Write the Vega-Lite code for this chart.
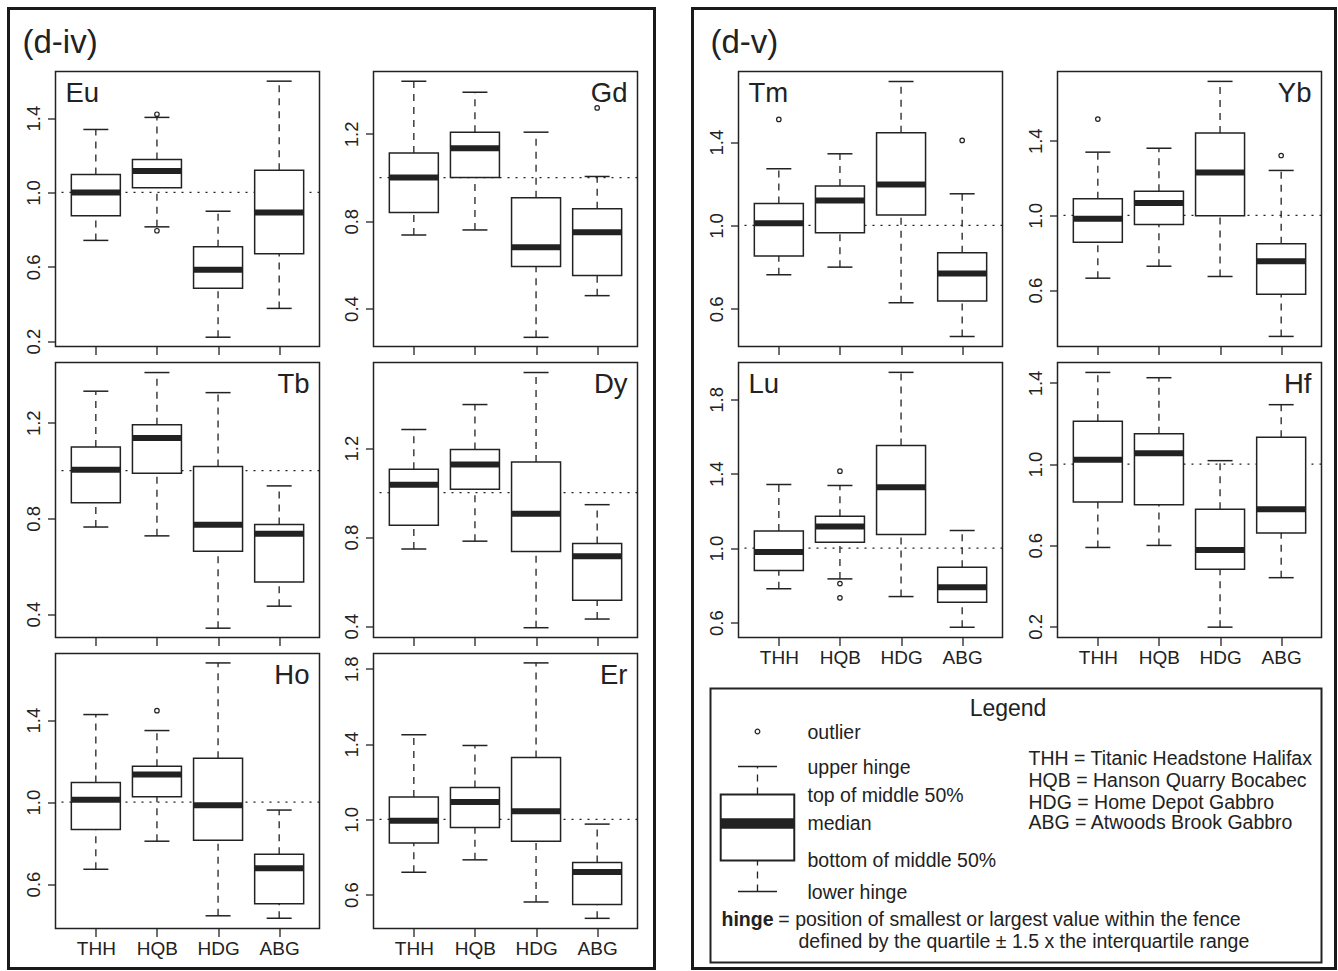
{
"$schema": "https://vega.github.io/schema/vega-lite/v6.json",
"padding": {"left": 6.5, "top": 6.5, "right": 0, "bottom": 0},
"background": "white",
"config": {
  "font": "Liberation Sans",
  "view": {"stroke": "#222", "strokeWidth": 1.5},
  "axis": {"domain": false, "grid": false, "tickColor": "#222", "tickSize": 8, "tickWidth": 1.3, "labelColor": "#222", "labelFont": "Liberation Sans", "labelFontSize": 18.5},
  "axisX": {"labelPadding": 3, "labelFontSize": 19, "labelAngle": 0},
  "axisY": {"labelAngle": -90, "labelAlign": "center", "labelBaseline": "bottom", "labelPadding": 4},
  "title": {"font": "Liberation Sans", "fontWeight": "normal", "color": "#222"}
},
"datasets": {
  "stats": [
    {"el":"Eu","site":"THH","lo":0.742,"q1":0.875,"med":1.0,"q3":1.097,"hi":1.339},
    {"el":"Eu","site":"HQB","lo":0.815,"q1":1.025,"med":1.115,"q3":1.178,"hi":1.404},
    {"el":"Eu","site":"HDG","lo":0.221,"q1":0.485,"med":0.584,"q3":0.708,"hi":0.899},
    {"el":"Eu","site":"ABG","lo":0.376,"q1":0.67,"med":0.892,"q3":1.12,"hi":1.599},
    {"el":"Gd","site":"THH","lo":0.737,"q1":0.84,"med":1.0,"q3":1.113,"hi":1.441},
    {"el":"Gd","site":"HQB","lo":0.76,"q1":1.0,"med":1.134,"q3":1.208,"hi":1.391},
    {"el":"Gd","site":"HDG","lo":0.268,"q1":0.593,"med":0.681,"q3":0.907,"hi":1.208},
    {"el":"Gd","site":"ABG","lo":0.459,"q1":0.551,"med":0.749,"q3":0.857,"hi":1.005},
    {"el":"Tb","site":"THH","lo":0.764,"q1":0.866,"med":1.004,"q3":1.099,"hi":1.332},
    {"el":"Tb","site":"HQB","lo":0.727,"q1":0.989,"med":1.136,"q3":1.192,"hi":1.41},
    {"el":"Tb","site":"HDG","lo":0.341,"q1":0.663,"med":0.773,"q3":1.017,"hi":1.326},
    {"el":"Tb","site":"ABG","lo":0.433,"q1":0.534,"med":0.736,"q3":0.775,"hi":0.936},
    {"el":"Dy","site":"THH","lo":0.747,"q1":0.853,"med":1.036,"q3":1.105,"hi":1.284},
    {"el":"Dy","site":"HQB","lo":0.782,"q1":1.015,"med":1.126,"q3":1.194,"hi":1.396},
    {"el":"Dy","site":"HDG","lo":0.393,"q1":0.736,"med":0.905,"q3":1.138,"hi":1.54},
    {"el":"Dy","site":"ABG","lo":0.432,"q1":0.516,"med":0.714,"q3":0.772,"hi":0.946},
    {"el":"Ho","site":"THH","lo":0.672,"q1":0.866,"med":1.011,"q3":1.096,"hi":1.427},
    {"el":"Ho","site":"HQB","lo":0.809,"q1":1.026,"med":1.134,"q3":1.175,"hi":1.349},
    {"el":"Ho","site":"HDG","lo":0.445,"q1":0.814,"med":0.985,"q3":1.214,"hi":1.679},
    {"el":"Ho","site":"ABG","lo":0.433,"q1":0.504,"med":0.677,"q3":0.745,"hi":0.961},
    {"el":"Er","site":"THH","lo":0.719,"q1":0.874,"med":0.993,"q3":1.119,"hi":1.45},
    {"el":"Er","site":"HQB","lo":0.785,"q1":0.957,"med":1.092,"q3":1.169,"hi":1.393},
    {"el":"Er","site":"HDG","lo":0.561,"q1":0.884,"med":1.043,"q3":1.329,"hi":1.832},
    {"el":"Er","site":"ABG","lo":0.474,"q1":0.547,"med":0.721,"q3":0.771,"hi":0.975},
    {"el":"Tm","site":"THH","lo":0.763,"q1":0.854,"med":1.011,"q3":1.106,"hi":1.272},
    {"el":"Tm","site":"HQB","lo":0.8,"q1":0.965,"med":1.12,"q3":1.189,"hi":1.344},
    {"el":"Tm","site":"HDG","lo":0.629,"q1":1.05,"med":1.197,"q3":1.445,"hi":1.691},
    {"el":"Tm","site":"ABG","lo":0.467,"q1":0.637,"med":0.77,"q3":0.869,"hi":1.152},
    {"el":"Yb","site":"THH","lo":0.664,"q1":0.857,"med":0.982,"q3":1.089,"hi":1.339},
    {"el":"Yb","site":"HQB","lo":0.728,"q1":0.952,"med":1.066,"q3":1.13,"hi":1.36},
    {"el":"Yb","site":"HDG","lo":0.673,"q1":0.998,"med":1.23,"q3":1.441,"hi":1.718},
    {"el":"Yb","site":"ABG","lo":0.352,"q1":0.578,"med":0.754,"q3":0.848,"hi":1.241},
    {"el":"Lu","site":"THH","lo":0.782,"q1":0.88,"med":0.98,"q3":1.093,"hi":1.342},
    {"el":"Lu","site":"HQB","lo":0.835,"q1":1.032,"med":1.117,"q3":1.172,"hi":1.337},
    {"el":"Lu","site":"HDG","lo":0.74,"q1":1.074,"med":1.328,"q3":1.552,"hi":1.945},
    {"el":"Lu","site":"ABG","lo":0.575,"q1":0.71,"med":0.79,"q3":0.898,"hi":1.095},
    {"el":"Hf","site":"THH","lo":0.589,"q1":0.813,"med":1.022,"q3":1.211,"hi":1.452},
    {"el":"Hf","site":"HQB","lo":0.599,"q1":0.8,"med":1.053,"q3":1.15,"hi":1.426},
    {"el":"Hf","site":"HDG","lo":0.196,"q1":0.481,"med":0.576,"q3":0.778,"hi":1.017},
    {"el":"Hf","site":"ABG","lo":0.44,"q1":0.66,"med":0.777,"q3":1.132,"hi":1.293}
  ],
  "out": [
    {"el":"Eu","site":"HQB","v":1.421},{"el":"Eu","site":"HQB","v":0.794},
    {"el":"Gd","site":"ABG","v":1.319},
    {"el":"Ho","site":"HQB","v":1.446},
    {"el":"Tm","site":"THH","v":1.509},{"el":"Tm","site":"ABG","v":1.408},
    {"el":"Yb","site":"THH","v":1.516},{"el":"Yb","site":"ABG","v":1.321},
    {"el":"Lu","site":"HQB","v":1.414},{"el":"Lu","site":"HQB","v":0.81},{"el":"Lu","site":"HQB","v":0.733}
  ],
  "lgbox": [{"lo":2.591,"q1":3.723,"med":5.073,"q3":6.131,"hi":7.153,"out":8.43}],
  "lgitems": [
    {"label":"outlier","v":8.43},
    {"label":"upper hinge","v":7.153},
    {"label":"top of middle 50%","v":6.131},
    {"label":"median","v":5.073},
    {"label":"bottom of middle 50%","v":3.723},
    {"label":"lower hinge","v":2.591}
  ],
  "lgdefs": [
    {"label":"THH = Titanic Headstone Halifax","v":7.445},
    {"label":"HQB = Hanson Quarry Bocabec","v":6.642},
    {"label":"HDG = Home Depot Gabbro","v":5.839},
    {"label":"ABG = Atwoods Brook Gabbro","v":5.073}
  ]
},
"hconcat": [
 {"vconcat": [
   {"hconcat": [
     {"width": 646, "height": 960, "data": {"values": []}, "mark": "point", "view": {"stroke": "#1a1a1a", "strokeWidth": 3}}
   ], "bounds": "flush"},
   {"title": {"text": "(d-iv)", "anchor": "start", "frame": "group", "dx": 14, "offset": -15, "baseline": "alphabetic", "fontSize": 33},
    "hconcat": [
     {"width": 1, "height": 1, "data": {"values": []}, "mark": "point", "view": {"stroke": null}},
     {"vconcat": [
       {"hconcat": [
         {"width":264,"height":275,
          "title":{"text":"Eu","anchor":"start","frame":"group","dx":10,"offset":-57.5,"baseline":"alphabetic","fontSize":27.5},
          "data":{"name":"stats"},"transform":[{"filter":"datum.el === 'Eu'"}],
          "layer":[
           {"data":{"values":[{}]},"mark":{"type":"rule","strokeDash":[2,6],"color":"#222","strokeWidth":1.3},
            "encoding":{"y":{"datum":1,"type":"quantitative","scale":{"domain":[0.171,1.651],"nice":false,"zero":false},"axis":{"values":[0.2,0.6,1.0,1.4],"format":".1f","title":null}}}},
           {"mark":{"type":"rule","strokeDash":[7,6],"color":"#222","strokeWidth":1.3},"encoding":{"x":{"field":"site","type":"nominal","title":null,"scale":{"type":"point","domain":["THH","HQB","HDG","ABG"],"padding":0.66},"axis":{"labels":false,"title":null}},"y":{"field":"q3","type":"quantitative","title":null},"y2":{"field":"hi"}}},
           {"mark":{"type":"rule","strokeDash":[7,6],"color":"#222","strokeWidth":1.3},"encoding":{"x":{"field":"site","type":"nominal","title":null},"y":{"field":"lo","type":"quantitative","title":null},"y2":{"field":"q1"}}},
           {"mark":{"type":"tick","orient":"horizontal","size":25,"thickness":1.5,"color":"#222","opacity":1},"encoding":{"x":{"field":"site","type":"nominal","title":null},"y":{"field":"hi","type":"quantitative","title":null}}},
           {"mark":{"type":"tick","orient":"horizontal","size":25,"thickness":1.5,"color":"#222","opacity":1},"encoding":{"x":{"field":"site","type":"nominal","title":null},"y":{"field":"lo","type":"quantitative","title":null}}},
           {"mark":{"type":"bar","size":49,"fill":"white","stroke":"#222","strokeWidth":1.5,"opacity":1},"encoding":{"x":{"field":"site","type":"nominal","title":null},"y":{"field":"q1","type":"quantitative","title":null},"y2":{"field":"q3"}}},
           {"mark":{"type":"tick","orient":"horizontal","size":49,"thickness":6,"color":"#222","opacity":1},"encoding":{"x":{"field":"site","type":"nominal","title":null},"y":{"field":"med","type":"quantitative","title":null}}},
           {"data":{"name":"out"},"transform":[{"filter":"datum.el === 'Eu'"}],"mark":{"type":"point","shape":"circle","filled":false,"size":20,"stroke":"#222","strokeWidth":1.2,"opacity":1},"encoding":{"x":{"field":"site","type":"nominal","title":null},"y":{"field":"v","type":"quantitative","title":null}}}
          ]},
         {"width":264,"height":275,
          "title":{"text":"Gd","anchor":"end","frame":"group","dx":-10,"offset":-57.5,"baseline":"alphabetic","fontSize":27.5},
          "data":{"name":"stats"},"transform":[{"filter":"datum.el === 'Gd'"}],
          "layer":[
           {"data":{"values":[{}]},"mark":{"type":"rule","strokeDash":[2,6],"color":"#222","strokeWidth":1.3},
            "encoding":{"y":{"datum":1,"type":"quantitative","scale":{"domain":[0.226,1.486],"nice":false,"zero":false},"axis":{"values":[0.4,0.8,1.2],"format":".1f","title":null}}}},
           {"mark":{"type":"rule","strokeDash":[7,6],"color":"#222","strokeWidth":1.3},"encoding":{"x":{"field":"site","type":"nominal","title":null,"scale":{"type":"point","domain":["THH","HQB","HDG","ABG"],"padding":0.66},"axis":{"labels":false,"title":null}},"y":{"field":"q3","type":"quantitative","title":null},"y2":{"field":"hi"}}},
           {"mark":{"type":"rule","strokeDash":[7,6],"color":"#222","strokeWidth":1.3},"encoding":{"x":{"field":"site","type":"nominal","title":null},"y":{"field":"lo","type":"quantitative","title":null},"y2":{"field":"q1"}}},
           {"mark":{"type":"tick","orient":"horizontal","size":25,"thickness":1.5,"color":"#222","opacity":1},"encoding":{"x":{"field":"site","type":"nominal","title":null},"y":{"field":"hi","type":"quantitative","title":null}}},
           {"mark":{"type":"tick","orient":"horizontal","size":25,"thickness":1.5,"color":"#222","opacity":1},"encoding":{"x":{"field":"site","type":"nominal","title":null},"y":{"field":"lo","type":"quantitative","title":null}}},
           {"mark":{"type":"bar","size":49,"fill":"white","stroke":"#222","strokeWidth":1.5,"opacity":1},"encoding":{"x":{"field":"site","type":"nominal","title":null},"y":{"field":"q1","type":"quantitative","title":null},"y2":{"field":"q3"}}},
           {"mark":{"type":"tick","orient":"horizontal","size":49,"thickness":6,"color":"#222","opacity":1},"encoding":{"x":{"field":"site","type":"nominal","title":null},"y":{"field":"med","type":"quantitative","title":null}}},
           {"data":{"name":"out"},"transform":[{"filter":"datum.el === 'Gd'"}],"mark":{"type":"point","shape":"circle","filled":false,"size":20,"stroke":"#222","strokeWidth":1.2,"opacity":1},"encoding":{"x":{"field":"site","type":"nominal","title":null},"y":{"field":"v","type":"quantitative","title":null}}}
          ]}
        ], "spacing": 54, "bounds": "flush"},
       {"hconcat": [
         {"width":264,"height":275,
          "title":{"text":"Tb","anchor":"end","frame":"group","dx":-10,"offset":-57.5,"baseline":"alphabetic","fontSize":27.5},
          "data":{"name":"stats"},"transform":[{"filter":"datum.el === 'Tb'"}],
          "layer":[
           {"data":{"values":[{}]},"mark":{"type":"rule","strokeDash":[2,6],"color":"#222","strokeWidth":1.3},
            "encoding":{"y":{"datum":1,"type":"quantitative","scale":{"domain":[0.302,1.452],"nice":false,"zero":false},"axis":{"values":[0.4,0.8,1.2],"format":".1f","title":null}}}},
           {"mark":{"type":"rule","strokeDash":[7,6],"color":"#222","strokeWidth":1.3},"encoding":{"x":{"field":"site","type":"nominal","title":null,"scale":{"type":"point","domain":["THH","HQB","HDG","ABG"],"padding":0.66},"axis":{"labels":false,"title":null}},"y":{"field":"q3","type":"quantitative","title":null},"y2":{"field":"hi"}}},
           {"mark":{"type":"rule","strokeDash":[7,6],"color":"#222","strokeWidth":1.3},"encoding":{"x":{"field":"site","type":"nominal","title":null},"y":{"field":"lo","type":"quantitative","title":null},"y2":{"field":"q1"}}},
           {"mark":{"type":"tick","orient":"horizontal","size":25,"thickness":1.5,"color":"#222","opacity":1},"encoding":{"x":{"field":"site","type":"nominal","title":null},"y":{"field":"hi","type":"quantitative","title":null}}},
           {"mark":{"type":"tick","orient":"horizontal","size":25,"thickness":1.5,"color":"#222","opacity":1},"encoding":{"x":{"field":"site","type":"nominal","title":null},"y":{"field":"lo","type":"quantitative","title":null}}},
           {"mark":{"type":"bar","size":49,"fill":"white","stroke":"#222","strokeWidth":1.5,"opacity":1},"encoding":{"x":{"field":"site","type":"nominal","title":null},"y":{"field":"q1","type":"quantitative","title":null},"y2":{"field":"q3"}}},
           {"mark":{"type":"tick","orient":"horizontal","size":49,"thickness":6,"color":"#222","opacity":1},"encoding":{"x":{"field":"site","type":"nominal","title":null},"y":{"field":"med","type":"quantitative","title":null}}}
          ]},
         {"width":264,"height":275,
          "title":{"text":"Dy","anchor":"end","frame":"group","dx":-10,"offset":-57.5,"baseline":"alphabetic","fontSize":27.5},
          "data":{"name":"stats"},"transform":[{"filter":"datum.el === 'Dy'"}],
          "layer":[
           {"data":{"values":[{}]},"mark":{"type":"rule","strokeDash":[2,6],"color":"#222","strokeWidth":1.3},
            "encoding":{"y":{"datum":1,"type":"quantitative","scale":{"domain":[0.349,1.585],"nice":false,"zero":false},"axis":{"values":[0.4,0.8,1.2],"format":".1f","title":null}}}},
           {"mark":{"type":"rule","strokeDash":[7,6],"color":"#222","strokeWidth":1.3},"encoding":{"x":{"field":"site","type":"nominal","title":null,"scale":{"type":"point","domain":["THH","HQB","HDG","ABG"],"padding":0.66},"axis":{"labels":false,"title":null}},"y":{"field":"q3","type":"quantitative","title":null},"y2":{"field":"hi"}}},
           {"mark":{"type":"rule","strokeDash":[7,6],"color":"#222","strokeWidth":1.3},"encoding":{"x":{"field":"site","type":"nominal","title":null},"y":{"field":"lo","type":"quantitative","title":null},"y2":{"field":"q1"}}},
           {"mark":{"type":"tick","orient":"horizontal","size":25,"thickness":1.5,"color":"#222","opacity":1},"encoding":{"x":{"field":"site","type":"nominal","title":null},"y":{"field":"hi","type":"quantitative","title":null}}},
           {"mark":{"type":"tick","orient":"horizontal","size":25,"thickness":1.5,"color":"#222","opacity":1},"encoding":{"x":{"field":"site","type":"nominal","title":null},"y":{"field":"lo","type":"quantitative","title":null}}},
           {"mark":{"type":"bar","size":49,"fill":"white","stroke":"#222","strokeWidth":1.5,"opacity":1},"encoding":{"x":{"field":"site","type":"nominal","title":null},"y":{"field":"q1","type":"quantitative","title":null},"y2":{"field":"q3"}}},
           {"mark":{"type":"tick","orient":"horizontal","size":49,"thickness":6,"color":"#222","opacity":1},"encoding":{"x":{"field":"site","type":"nominal","title":null},"y":{"field":"med","type":"quantitative","title":null}}}
          ]}
        ], "spacing": 54, "bounds": "flush"},
       {"hconcat": [
         {"width":264,"height":275,
          "title":{"text":"Ho","anchor":"end","frame":"group","dx":-10,"offset":-57.5,"baseline":"alphabetic","fontSize":27.5},
          "data":{"name":"stats"},"transform":[{"filter":"datum.el === 'Ho'"}],
          "layer":[
           {"data":{"values":[{}]},"mark":{"type":"rule","strokeDash":[2,6],"color":"#222","strokeWidth":1.3},
            "encoding":{"y":{"datum":1,"type":"quantitative","scale":{"domain":[0.383,1.725],"nice":false,"zero":false},"axis":{"values":[0.6,1.0,1.4],"format":".1f","title":null}}}},
           {"mark":{"type":"rule","strokeDash":[7,6],"color":"#222","strokeWidth":1.3},"encoding":{"x":{"field":"site","type":"nominal","title":null,"scale":{"type":"point","domain":["THH","HQB","HDG","ABG"],"padding":0.66},"axis":{"title":null}},"y":{"field":"q3","type":"quantitative","title":null},"y2":{"field":"hi"}}},
           {"mark":{"type":"rule","strokeDash":[7,6],"color":"#222","strokeWidth":1.3},"encoding":{"x":{"field":"site","type":"nominal","title":null},"y":{"field":"lo","type":"quantitative","title":null},"y2":{"field":"q1"}}},
           {"mark":{"type":"tick","orient":"horizontal","size":25,"thickness":1.5,"color":"#222","opacity":1},"encoding":{"x":{"field":"site","type":"nominal","title":null},"y":{"field":"hi","type":"quantitative","title":null}}},
           {"mark":{"type":"tick","orient":"horizontal","size":25,"thickness":1.5,"color":"#222","opacity":1},"encoding":{"x":{"field":"site","type":"nominal","title":null},"y":{"field":"lo","type":"quantitative","title":null}}},
           {"mark":{"type":"bar","size":49,"fill":"white","stroke":"#222","strokeWidth":1.5,"opacity":1},"encoding":{"x":{"field":"site","type":"nominal","title":null},"y":{"field":"q1","type":"quantitative","title":null},"y2":{"field":"q3"}}},
           {"mark":{"type":"tick","orient":"horizontal","size":49,"thickness":6,"color":"#222","opacity":1},"encoding":{"x":{"field":"site","type":"nominal","title":null},"y":{"field":"med","type":"quantitative","title":null}}},
           {"data":{"name":"out"},"transform":[{"filter":"datum.el === 'Ho'"}],"mark":{"type":"point","shape":"circle","filled":false,"size":20,"stroke":"#222","strokeWidth":1.2,"opacity":1},"encoding":{"x":{"field":"site","type":"nominal","title":null},"y":{"field":"v","type":"quantitative","title":null}}}
          ]},
         {"width":264,"height":275,
          "title":{"text":"Er","anchor":"end","frame":"group","dx":-10,"offset":-57.5,"baseline":"alphabetic","fontSize":27.5},
          "data":{"name":"stats"},"transform":[{"filter":"datum.el === 'Er'"}],
          "layer":[
           {"data":{"values":[{}]},"mark":{"type":"rule","strokeDash":[2,6],"color":"#222","strokeWidth":1.3},
            "encoding":{"y":{"datum":1,"type":"quantitative","scale":{"domain":[0.42,1.882],"nice":false,"zero":false},"axis":{"values":[0.6,1.0,1.4,1.8],"format":".1f","title":null}}}},
           {"mark":{"type":"rule","strokeDash":[7,6],"color":"#222","strokeWidth":1.3},"encoding":{"x":{"field":"site","type":"nominal","title":null,"scale":{"type":"point","domain":["THH","HQB","HDG","ABG"],"padding":0.66},"axis":{"title":null}},"y":{"field":"q3","type":"quantitative","title":null},"y2":{"field":"hi"}}},
           {"mark":{"type":"rule","strokeDash":[7,6],"color":"#222","strokeWidth":1.3},"encoding":{"x":{"field":"site","type":"nominal","title":null},"y":{"field":"lo","type":"quantitative","title":null},"y2":{"field":"q1"}}},
           {"mark":{"type":"tick","orient":"horizontal","size":25,"thickness":1.5,"color":"#222","opacity":1},"encoding":{"x":{"field":"site","type":"nominal","title":null},"y":{"field":"hi","type":"quantitative","title":null}}},
           {"mark":{"type":"tick","orient":"horizontal","size":25,"thickness":1.5,"color":"#222","opacity":1},"encoding":{"x":{"field":"site","type":"nominal","title":null},"y":{"field":"lo","type":"quantitative","title":null}}},
           {"mark":{"type":"bar","size":49,"fill":"white","stroke":"#222","strokeWidth":1.5,"opacity":1},"encoding":{"x":{"field":"site","type":"nominal","title":null},"y":{"field":"q1","type":"quantitative","title":null},"y2":{"field":"q3"}}},
           {"mark":{"type":"tick","orient":"horizontal","size":49,"thickness":6,"color":"#222","opacity":1},"encoding":{"x":{"field":"site","type":"nominal","title":null},"y":{"field":"med","type":"quantitative","title":null}}}
          ]}
        ], "spacing": 54, "bounds": "flush"}
      ], "spacing": 291, "bounds": "flush"}
    ], "spacing": 46, "bounds": "flush"}
  ], "spacing": 63, "bounds": "flush"},
 {"vconcat": [
   {"hconcat": [
     {"width": 643, "height": 960, "data": {"values": []}, "mark": "point", "view": {"stroke": "#1a1a1a", "strokeWidth": 3}}
   ], "bounds": "flush"},
   {"title": {"text": "(d-v)", "anchor": "start", "frame": "group", "dx": 18, "offset": -15, "baseline": "alphabetic", "fontSize": 33},
    "hconcat": [
     {"width": 1, "height": 1, "data": {"values": []}, "mark": "point", "view": {"stroke": null}},
     {"vconcat": [
       {"hconcat": [
         {"width": 1, "height": 1, "data": {"values": []}, "mark": "point", "view": {"stroke": null}},
         {"vconcat": [
           {"hconcat": [
             {"width":264,"height":275,
              "title":{"text":"Tm","anchor":"start","frame":"group","dx":10,"offset":-57.5,"baseline":"alphabetic","fontSize":27.5},
              "data":{"name":"stats"},"transform":[{"filter":"datum.el === 'Tm'"}],
              "layer":[
               {"data":{"values":[{}]},"mark":{"type":"rule","strokeDash":[2,6],"color":"#222","strokeWidth":1.3},
                "encoding":{"y":{"datum":1,"type":"quantitative","scale":{"domain":[0.419,1.739],"nice":false,"zero":false},"axis":{"values":[0.6,1.0,1.4],"format":".1f","title":null}}}},
               {"mark":{"type":"rule","strokeDash":[7,6],"color":"#222","strokeWidth":1.3},"encoding":{"x":{"field":"site","type":"nominal","title":null,"scale":{"type":"point","domain":["THH","HQB","HDG","ABG"],"padding":0.66},"axis":{"labels":false,"title":null}},"y":{"field":"q3","type":"quantitative","title":null},"y2":{"field":"hi"}}},
               {"mark":{"type":"rule","strokeDash":[7,6],"color":"#222","strokeWidth":1.3},"encoding":{"x":{"field":"site","type":"nominal","title":null},"y":{"field":"lo","type":"quantitative","title":null},"y2":{"field":"q1"}}},
               {"mark":{"type":"tick","orient":"horizontal","size":25,"thickness":1.5,"color":"#222","opacity":1},"encoding":{"x":{"field":"site","type":"nominal","title":null},"y":{"field":"hi","type":"quantitative","title":null}}},
               {"mark":{"type":"tick","orient":"horizontal","size":25,"thickness":1.5,"color":"#222","opacity":1},"encoding":{"x":{"field":"site","type":"nominal","title":null},"y":{"field":"lo","type":"quantitative","title":null}}},
               {"mark":{"type":"bar","size":49,"fill":"white","stroke":"#222","strokeWidth":1.5,"opacity":1},"encoding":{"x":{"field":"site","type":"nominal","title":null},"y":{"field":"q1","type":"quantitative","title":null},"y2":{"field":"q3"}}},
               {"mark":{"type":"tick","orient":"horizontal","size":49,"thickness":6,"color":"#222","opacity":1},"encoding":{"x":{"field":"site","type":"nominal","title":null},"y":{"field":"med","type":"quantitative","title":null}}},
               {"data":{"name":"out"},"transform":[{"filter":"datum.el === 'Tm'"}],"mark":{"type":"point","shape":"circle","filled":false,"size":20,"stroke":"#222","strokeWidth":1.2,"opacity":1},"encoding":{"x":{"field":"site","type":"nominal","title":null},"y":{"field":"v","type":"quantitative","title":null}}}
              ]},
             {"width":264,"height":275,
              "title":{"text":"Yb","anchor":"end","frame":"group","dx":-10,"offset":-57.5,"baseline":"alphabetic","fontSize":27.5},
              "data":{"name":"stats"},"transform":[{"filter":"datum.el === 'Yb'"}],
              "layer":[
               {"data":{"values":[{}]},"mark":{"type":"rule","strokeDash":[2,6],"color":"#222","strokeWidth":1.3},
                "encoding":{"y":{"datum":1,"type":"quantitative","scale":{"domain":[0.298,1.771],"nice":false,"zero":false},"axis":{"values":[0.6,1.0,1.4],"format":".1f","title":null}}}},
               {"mark":{"type":"rule","strokeDash":[7,6],"color":"#222","strokeWidth":1.3},"encoding":{"x":{"field":"site","type":"nominal","title":null,"scale":{"type":"point","domain":["THH","HQB","HDG","ABG"],"padding":0.66},"axis":{"labels":false,"title":null}},"y":{"field":"q3","type":"quantitative","title":null},"y2":{"field":"hi"}}},
               {"mark":{"type":"rule","strokeDash":[7,6],"color":"#222","strokeWidth":1.3},"encoding":{"x":{"field":"site","type":"nominal","title":null},"y":{"field":"lo","type":"quantitative","title":null},"y2":{"field":"q1"}}},
               {"mark":{"type":"tick","orient":"horizontal","size":25,"thickness":1.5,"color":"#222","opacity":1},"encoding":{"x":{"field":"site","type":"nominal","title":null},"y":{"field":"hi","type":"quantitative","title":null}}},
               {"mark":{"type":"tick","orient":"horizontal","size":25,"thickness":1.5,"color":"#222","opacity":1},"encoding":{"x":{"field":"site","type":"nominal","title":null},"y":{"field":"lo","type":"quantitative","title":null}}},
               {"mark":{"type":"bar","size":49,"fill":"white","stroke":"#222","strokeWidth":1.5,"opacity":1},"encoding":{"x":{"field":"site","type":"nominal","title":null},"y":{"field":"q1","type":"quantitative","title":null},"y2":{"field":"q3"}}},
               {"mark":{"type":"tick","orient":"horizontal","size":49,"thickness":6,"color":"#222","opacity":1},"encoding":{"x":{"field":"site","type":"nominal","title":null},"y":{"field":"med","type":"quantitative","title":null}}},
               {"data":{"name":"out"},"transform":[{"filter":"datum.el === 'Yb'"}],"mark":{"type":"point","shape":"circle","filled":false,"size":20,"stroke":"#222","strokeWidth":1.2,"opacity":1},"encoding":{"x":{"field":"site","type":"nominal","title":null},"y":{"field":"v","type":"quantitative","title":null}}}
              ]}
            ], "spacing": 55, "bounds": "flush"},
           {"hconcat": [
             {"width":264,"height":275,
              "title":{"text":"Lu","anchor":"start","frame":"group","dx":10,"offset":-57.5,"baseline":"alphabetic","fontSize":27.5},
              "data":{"name":"stats"},"transform":[{"filter":"datum.el === 'Lu'"}],
              "layer":[
               {"data":{"values":[{}]},"mark":{"type":"rule","strokeDash":[2,6],"color":"#222","strokeWidth":1.3},
                "encoding":{"y":{"datum":1,"type":"quantitative","scale":{"domain":[0.52,1.998],"nice":false,"zero":false},"axis":{"values":[0.6,1.0,1.4,1.8],"format":".1f","title":null}}}},
               {"mark":{"type":"rule","strokeDash":[7,6],"color":"#222","strokeWidth":1.3},"encoding":{"x":{"field":"site","type":"nominal","title":null,"scale":{"type":"point","domain":["THH","HQB","HDG","ABG"],"padding":0.66},"axis":{"title":null}},"y":{"field":"q3","type":"quantitative","title":null},"y2":{"field":"hi"}}},
               {"mark":{"type":"rule","strokeDash":[7,6],"color":"#222","strokeWidth":1.3},"encoding":{"x":{"field":"site","type":"nominal","title":null},"y":{"field":"lo","type":"quantitative","title":null},"y2":{"field":"q1"}}},
               {"mark":{"type":"tick","orient":"horizontal","size":25,"thickness":1.5,"color":"#222","opacity":1},"encoding":{"x":{"field":"site","type":"nominal","title":null},"y":{"field":"hi","type":"quantitative","title":null}}},
               {"mark":{"type":"tick","orient":"horizontal","size":25,"thickness":1.5,"color":"#222","opacity":1},"encoding":{"x":{"field":"site","type":"nominal","title":null},"y":{"field":"lo","type":"quantitative","title":null}}},
               {"mark":{"type":"bar","size":49,"fill":"white","stroke":"#222","strokeWidth":1.5,"opacity":1},"encoding":{"x":{"field":"site","type":"nominal","title":null},"y":{"field":"q1","type":"quantitative","title":null},"y2":{"field":"q3"}}},
               {"mark":{"type":"tick","orient":"horizontal","size":49,"thickness":6,"color":"#222","opacity":1},"encoding":{"x":{"field":"site","type":"nominal","title":null},"y":{"field":"med","type":"quantitative","title":null}}},
               {"data":{"name":"out"},"transform":[{"filter":"datum.el === 'Lu'"}],"mark":{"type":"point","shape":"circle","filled":false,"size":20,"stroke":"#222","strokeWidth":1.2,"opacity":1},"encoding":{"x":{"field":"site","type":"nominal","title":null},"y":{"field":"v","type":"quantitative","title":null}}}
              ]},
             {"width":264,"height":275,
              "title":{"text":"Hf","anchor":"end","frame":"group","dx":-10,"offset":-57.5,"baseline":"alphabetic","fontSize":27.5},
              "data":{"name":"stats"},"transform":[{"filter":"datum.el === 'Hf'"}],
              "layer":[
               {"data":{"values":[{}]},"mark":{"type":"rule","strokeDash":[2,6],"color":"#222","strokeWidth":1.3},
                "encoding":{"y":{"datum":1,"type":"quantitative","scale":{"domain":[0.145,1.501],"nice":false,"zero":false},"axis":{"values":[0.2,0.6,1.0,1.4],"format":".1f","title":null}}}},
               {"mark":{"type":"rule","strokeDash":[7,6],"color":"#222","strokeWidth":1.3},"encoding":{"x":{"field":"site","type":"nominal","title":null,"scale":{"type":"point","domain":["THH","HQB","HDG","ABG"],"padding":0.66},"axis":{"title":null}},"y":{"field":"q3","type":"quantitative","title":null},"y2":{"field":"hi"}}},
               {"mark":{"type":"rule","strokeDash":[7,6],"color":"#222","strokeWidth":1.3},"encoding":{"x":{"field":"site","type":"nominal","title":null},"y":{"field":"lo","type":"quantitative","title":null},"y2":{"field":"q1"}}},
               {"mark":{"type":"tick","orient":"horizontal","size":25,"thickness":1.5,"color":"#222","opacity":1},"encoding":{"x":{"field":"site","type":"nominal","title":null},"y":{"field":"hi","type":"quantitative","title":null}}},
               {"mark":{"type":"tick","orient":"horizontal","size":25,"thickness":1.5,"color":"#222","opacity":1},"encoding":{"x":{"field":"site","type":"nominal","title":null},"y":{"field":"lo","type":"quantitative","title":null}}},
               {"mark":{"type":"bar","size":49,"fill":"white","stroke":"#222","strokeWidth":1.5,"opacity":1},"encoding":{"x":{"field":"site","type":"nominal","title":null},"y":{"field":"q1","type":"quantitative","title":null},"y2":{"field":"q3"}}},
               {"mark":{"type":"tick","orient":"horizontal","size":49,"thickness":6,"color":"#222","opacity":1},"encoding":{"x":{"field":"site","type":"nominal","title":null},"y":{"field":"med","type":"quantitative","title":null}}}
              ]}
            ], "spacing": 55, "bounds": "flush"}
          ], "spacing": 291, "bounds": "flush"}
        ], "spacing": 27, "bounds": "flush"},
       {"width": 611, "height": 274,
        "view": {"stroke": "#222", "strokeWidth": 2},
        "title": {"text": "Legend", "anchor": "middle", "frame": "group", "dx": -8, "offset": -43, "baseline": "middle", "fontSize": 23},
        "layer": [
          {"data":{"name":"lgbox"},"mark":{"type":"rule","strokeDash":[7,6],"color":"#222","strokeWidth":1.3},
           "encoding":{"x":{"datum":0.769,"type":"quantitative","scale":{"domain":[0,10],"nice":false,"zero":false},"axis":null},
                       "y":{"field":"q3","type":"quantitative","scale":{"domain":[0,10],"nice":false,"zero":false},"axis":null},"y2":{"field":"hi"}}},
          {"data":{"name":"lgbox"},"mark":{"type":"rule","strokeDash":[7,6],"color":"#222","strokeWidth":1.3},
           "encoding":{"x":{"datum":0.769,"type":"quantitative"},"y":{"field":"lo","type":"quantitative"},"y2":{"field":"q1"}}},
          {"data":{"name":"lgbox"},"mark":{"type":"tick","orient":"horizontal","size":39,"thickness":1.5,"color":"#222","opacity":1},
           "encoding":{"x":{"datum":0.769,"type":"quantitative"},"y":{"field":"hi","type":"quantitative"}}},
          {"data":{"name":"lgbox"},"mark":{"type":"tick","orient":"horizontal","size":39,"thickness":1.5,"color":"#222","opacity":1},
           "encoding":{"x":{"datum":0.769,"type":"quantitative"},"y":{"field":"lo","type":"quantitative"}}},
          {"data":{"name":"lgbox"},"mark":{"type":"rect","fill":"white","stroke":"#222","strokeWidth":2,"opacity":1},
           "encoding":{"x":{"datum":0.167,"type":"quantitative"},"x2":{"datum":1.371},"y":{"field":"q1","type":"quantitative"},"y2":{"field":"q3"}}},
          {"data":{"name":"lgbox"},"mark":{"type":"tick","orient":"horizontal","size":73,"thickness":10.5,"color":"#222","opacity":1},
           "encoding":{"x":{"datum":0.769,"type":"quantitative"},"y":{"field":"med","type":"quantitative"}}},
          {"data":{"name":"lgbox"},"mark":{"type":"point","shape":"circle","filled":false,"size":22,"stroke":"#222","strokeWidth":1.2,"opacity":1},
           "encoding":{"x":{"datum":0.769,"type":"quantitative"},"y":{"field":"out","type":"quantitative"}}},
          {"data":{"name":"lgitems"},"mark":{"type":"text","align":"left","baseline":"middle","fontSize":19.5,"color":"#222","dy":1},
           "encoding":{"x":{"datum":1.588,"type":"quantitative"},"y":{"field":"v","type":"quantitative"},"text":{"field":"label"}}},
          {"data":{"name":"lgdefs"},"mark":{"type":"text","align":"left","baseline":"middle","fontSize":19.5,"color":"#222"},
           "encoding":{"x":{"datum":5.205,"type":"quantitative"},"y":{"field":"v","type":"quantitative"},"text":{"field":"label"}}},
          {"data":{"values":[{"label":"hinge","v":1.569}]},"mark":{"type":"text","align":"left","baseline":"middle","fontSize":19.5,"fontWeight":"bold","color":"#222"},
           "encoding":{"x":{"datum":0.18,"type":"quantitative"},"y":{"field":"v","type":"quantitative"},"text":{"field":"label"}}},
          {"data":{"values":[{"label":"= position of smallest or largest value within the fence","v":1.569}]},"mark":{"type":"text","align":"left","baseline":"middle","fontSize":19.5,"color":"#222"},
           "encoding":{"x":{"datum":1.11,"type":"quantitative"},"y":{"field":"v","type":"quantitative"},"text":{"field":"label"}}},
          {"data":{"values":[{"label":"defined by the quartile ± 1.5 x the interquartile range","v":0.73}]},"mark":{"type":"text","align":"left","baseline":"middle","fontSize":19.5,"color":"#222"},
           "encoding":{"x":{"datum":1.44,"type":"quantitative"},"y":{"field":"v","type":"quantitative"},"text":{"field":"label"}}}
        ]}
      ], "spacing": 617, "bounds": "flush"}
    ], "spacing": 17, "bounds": "flush"}
  ], "spacing": 63, "bounds": "flush"}
], "spacing": 684, "bounds": "flush"
}
